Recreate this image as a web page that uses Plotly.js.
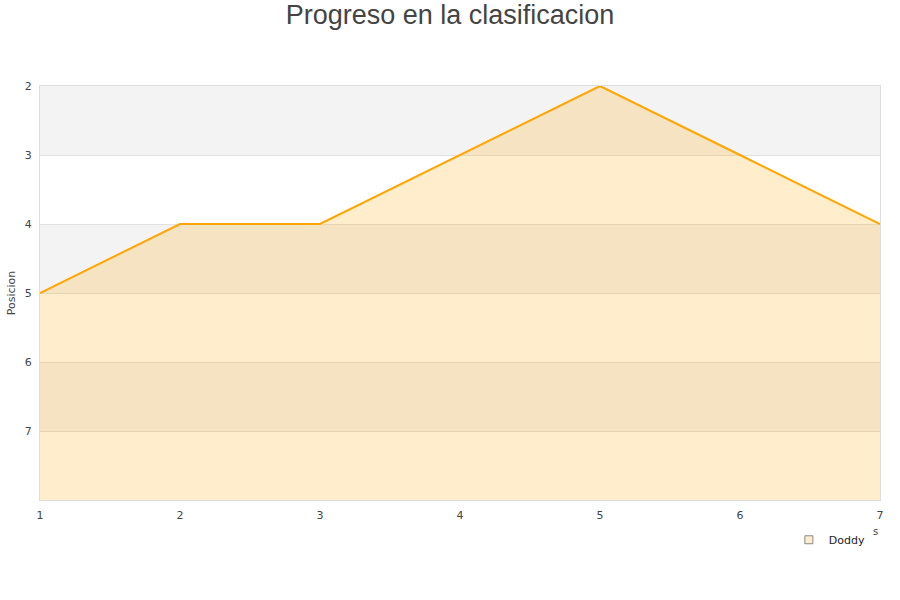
<!DOCTYPE html>
<html>
<head>
<meta charset="utf-8">
<script src="https://cdn.plot.ly/plotly-3.0.1.min.js"></script>
<style>html,body{margin:0;padding:0;background:#fff;}#chart{width:900px;height:600px;}</style>
</head>
<body>
<div id="chart"></div>
<script>
const jornadas = [1, 2, 3, 4, 5, 6, 7];
const posiciones = [5, 4, 4, 3, 2, 3, 4];
const seriesName = "Doddy";
const yTicks = [2, 3, 4, 5, 6, 7];
const bandStarts = [2, 4, 6];
const baseline = 8;

const shapes = bandStarts.map(s => ({
  type: 'rect', xref: 'paper', yref: 'y', x0: 0, x1: 1, y0: s, y1: s + 1,
  fillcolor: '#f3f3f3', line: {width: 0}, layer: 'below'
}));

const traces = [
  {x: jornadas, y: jornadas.map(() => baseline), mode: 'lines', line: {width: 0},
   showlegend: false, hoverinfo: 'skip'},
  {x: jornadas, y: posiciones, name: seriesName, mode: 'lines', fill: 'tonexty',
   fillcolor: 'rgba(255,165,0,0.2)', line: {color: '#ffa500', width: 2}, showlegend: false},
  {x: [null], y: [null], name: seriesName, mode: 'markers',
   marker: {symbol: 'square', size: 8, color: '#ffedcc', line: {color: '#888', width: 1}}}
];

const layout = {
  width: 900, height: 600,
  margin: {l: 40, r: 20, t: 86, b: 100},
  paper_bgcolor: '#fff', plot_bgcolor: '#fff',
  font: {family: 'DejaVu Sans, sans-serif', size: 11, color: '#444'},
  title: {text: 'Progreso en la clasificacion', font: {family: 'Liberation Sans, Arial, sans-serif', size: 27, color: '#444'}, x: 0.5, xanchor: 'center', y: 0.975, yanchor: 'middle'},
  xaxis: {range: [1, 7], tickvals: jornadas, showgrid: false, zeroline: false,
          showline: true, linecolor: '#ddd', mirror: true, ticks: 'outside', ticklen: 5, tickcolor: 'rgba(0,0,0,0)',
          tickfont: {size: 11, color: '#444'}},
  yaxis: {range: [8, 2], tickvals: yTicks, showgrid: true, gridcolor: '#e0e0e0',
          zeroline: false, showline: true, linecolor: '#ddd', mirror: true, ticks: 'outside', ticklen: 5, tickcolor: 'rgba(0,0,0,0)',
          tickfont: {size: 11, color: '#444'},
          title: {text: 'Posicion', font: {size: 11, color: '#444'}, standoff: 6}},
  shapes: shapes,
  annotations: [{xref: 'paper', yref: 'paper', x: 0.995, y: -0.075, text: 's', showarrow: false,
                 font: {size: 10, color: '#444'}, xanchor: 'center', yanchor: 'middle'}],
  showlegend: true,
  legend: {x: 0.8915, xanchor: 'left', y: -0.061, yanchor: 'top', bgcolor: 'rgba(0,0,0,0)',
           itemwidth: 30, font: {size: 11, color: '#222'}}
};

Plotly.newPlot('chart', traces, layout, {displayModeBar: false, staticPlot: true});
</script>
</body>
</html>
